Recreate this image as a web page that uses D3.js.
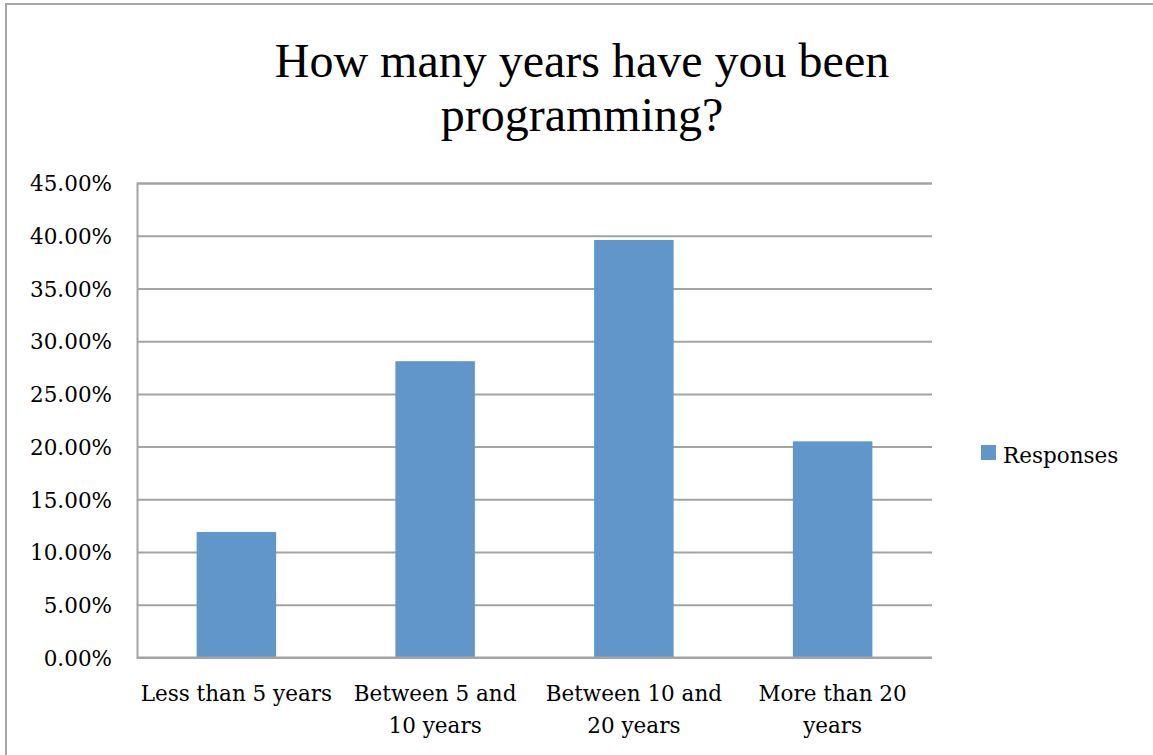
<!DOCTYPE html>
<html>
<head>
<meta charset="utf-8">
<script src="https://cdn.jsdelivr.net/npm/d3@7"></script>
<style>
  html, body { margin: 0; padding: 0; background: #fff; }
  svg { display: block; }
</style>
</head>
<body>
<script>
const categories = ["Less than 5 years", "Between 5 and 10 years", "Between 10 and 20 years", "More than 20 years"];
const categoryLines = [["Less than 5 years"], ["Between 5 and", "10 years"], ["Between 10 and", "20 years"], ["More than 20", "years"]];
const responses = [0.119, 0.281, 0.396, 0.205];
const seriesName = "Responses";
const yTicks = [0, 0.05, 0.10, 0.15, 0.20, 0.25, 0.30, 0.35, 0.40, 0.45];
const titleLines = ["How many years have you been", "programming?"];

const W = 1153, H = 755;
const plot = { left: 137, top: 183, right: 932, bottom: 657.5 };
const barColor = "#6096c9";
const gridColor = "#a3a3a3";
const labelFont = "'DejaVu Serif', serif";
const titleFont = "'Liberation Serif', Tinos, 'Times New Roman', Times, serif";

const svg = d3.select("body").append("svg").attr("width", W).attr("height", H);

// chart frame
svg.append("rect").attr("x", 6).attr("y", 4).attr("width", W + 20).attr("height", H + 20)
  .attr("fill", "#fff").attr("stroke", "#a6a6a6").attr("stroke-width", 2);

// title
const title = svg.append("text").attr("text-anchor", "middle")
  .style("font-family", titleFont)
  .attr("font-size", 48).attr("fill", "#000");
titleLines.forEach((t, i) => {
  title.append("tspan").attr("x", 582).attr("y", 77 + i * 54).text(t);
});

const x = d3.scaleBand().domain(categories).range([plot.left, plot.right]).paddingInner(0.6).paddingOuter(0.3);
const y = d3.scaleLinear().domain([0, 0.45]).range([plot.bottom, plot.top]);

// gridlines
const yAxis = d3.axisLeft(y).tickValues(yTicks).tickFormat(d3.format(".2%"))
  .tickSize(-(plot.right - plot.left)).tickPadding(25);
const gy = svg.append("g").attr("transform", `translate(${plot.left},0)`).call(yAxis);
gy.select(".domain").attr("stroke", gridColor).attr("stroke-width", 2);
gy.selectAll(".tick line").attr("stroke", gridColor).attr("stroke-width", 2);
gy.selectAll(".tick text").attr("font-family", labelFont).attr("font-size", 21.5)
  .attr("fill", "#000").attr("dy", "0.36em");

// bars
svg.append("g").selectAll("rect").data(responses).join("rect")
  .attr("x", (d, i) => x(categories[i]))
  .attr("width", x.bandwidth())
  .attr("y", d => y(d))
  .attr("height", d => y(0) - y(d))
  .attr("fill", barColor);

// x axis line
svg.append("line").attr("x1", plot.left).attr("x2", plot.right)
  .attr("y1", y(0)).attr("y2", y(0)).attr("stroke", gridColor).attr("stroke-width", 2);

// x labels
const xl = svg.append("g").attr("font-family", labelFont).attr("font-size", 21.5)
  .attr("fill", "#000").attr("text-anchor", "middle");
categories.forEach((c, i) => {
  const t = xl.append("text");
  categoryLines[i].forEach((line, j) => {
    t.append("tspan").attr("x", x(c) + x.bandwidth() / 2).attr("y", 701 + j * 32).text(line);
  });
});

// legend
const lg = svg.append("g");
lg.append("rect").attr("x", 981).attr("y", 445).attr("width", 15).attr("height", 15).attr("fill", barColor);
lg.append("text").attr("x", 1003).attr("y", 463).attr("font-family", labelFont).attr("font-size", 21.5)
  .attr("fill", "#000").text(seriesName);
</script>
</body>
</html>
